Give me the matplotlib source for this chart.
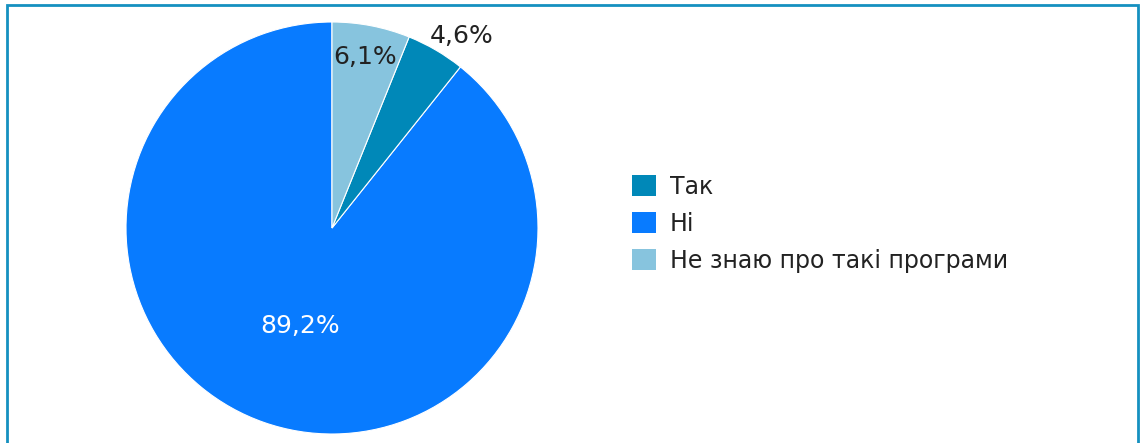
import matplotlib
matplotlib.use("Agg")
import matplotlib.pyplot as plt
from matplotlib.patches import Rectangle, Patch
import numpy as np

plt.rcParams['font.family'] = ['DejaVu Sans']

labels = ["Так", "Ні", "Не знаю про такі програми"]
values = [4.6, 89.2, 6.1]
colors = ["#0088b8", "#087bff", "#87c4de"]
value_text = ["4,6%", "89,2%", "6,1%"]

W, H = 1143, 443
fig = plt.figure(figsize=(W / 100, H / 100), dpi=100)

cx, cy, r = 332, 228, 206
ax = fig.add_axes([(cx - r) / W, (H - cy - r) / H, 2 * r / W, 2 * r / H])

# drawn counter-clockwise from the top: Ні, Так, Не знаю
order = [1, 0, 2]
wedges, _ = ax.pie([values[i] for i in order], colors=[colors[i] for i in order],
                   startangle=90, counterclock=True, radius=1,
                   wedgeprops=dict(edgecolor="white", linewidth=0.8))
ax.set_xlim(-1, 1)
ax.set_ylim(-1, 1)
ax.set_aspect("equal")

# label placement (radius fraction, angle in degrees)
label_pos = {0: (1.125, 56), 1: (0.5, 252), 2: (0.845, 79)}
label_col = {0: "#222222", 1: "white", 2: "#222222"}
for i, (rr, ang) in label_pos.items():
    a = np.deg2rad(ang)
    ax.text(rr * np.cos(a), rr * np.sin(a), value_text[i], ha="center", va="center",
            fontsize=18, color=label_col[i])

handles = [Patch(facecolor=c, edgecolor="none") for c in colors]
leg = fig.legend(handles, labels, loc="center left", bbox_to_anchor=(632 / W, 1 - 224 / H),
                 frameon=False, fontsize=17, handlelength=1.0, handleheight=1.0,
                 handletextpad=0.6, labelspacing=0.55, borderaxespad=0, borderpad=0)
for t in leg.get_texts():
    t.set_color("#222222")

fig.add_artist(Rectangle((7 / W, -0.1), (1138 - 7) / W, 1.1 - 5 / H,
                         transform=fig.transFigure, fill=False,
                         edgecolor="#1590c0", linewidth=2))

fig.savefig("out.png", dpi=100)
